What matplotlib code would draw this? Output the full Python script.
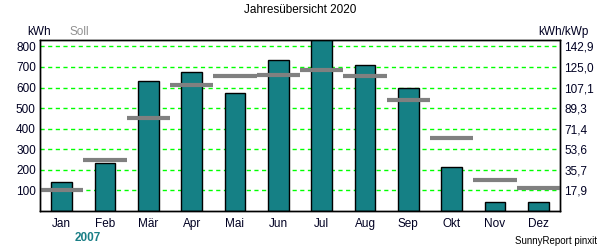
import matplotlib
matplotlib.use("Agg")
import matplotlib.pyplot as plt
import numpy as np

plt.rcParams['font.family'] = ['Liberation Sans', 'DejaVu Sans']

months = ["Jan", "Feb", "Mär", "Apr", "Mai", "Jun", "Jul", "Aug", "Sep", "Okt", "Nov", "Dez"]
ertrag = [139, 231, 631, 675, 572, 732, 845, 708, 596, 212, 42, 42]
soll = [100, 246, 451, 611, 654, 659, 683, 654, 538, 354, 149, 110]
left_ticks = [100, 200, 300, 400, 500, 600, 700, 800]
right_labels = ["17,9", "35,7", "53,6", "71,4", "89,3", "107,1", "125,0", "142,9"]

fig = plt.figure(figsize=(6, 2.5), dpi=100)
ax = fig.add_axes([40/600, 1-210.9/250, 520/600, (210.9-40)/250])

x = np.arange(len(months))
ax.set_axisbelow(False)
for t in left_ticks:
    ax.axhline(t, color='#00FF00', lw=1, ls=(0, (3, 2.5)), zorder=1)
ax.bar(x, ertrag, width=0.48, color='#158085', edgecolor='black', lw=1, zorder=2)
ax.hlines(soll, x-0.5, x+0.5, color='#808080', lw=3, zorder=3)

ax.set_xlim(-0.5, 11.5)
ax.set_ylim(0, 831)
ax.set_yticks(left_ticks)
ax.set_yticklabels([str(t) for t in left_ticks], fontsize=8.5, color='#000022')
ax.set_xticks(x)
ax.set_xticklabels(months, fontsize=8.5, color='#000022')
ax.tick_params(axis='both', length=0, pad=3)
ax.tick_params(axis='x', pad=5)

ax2 = ax.twinx()
ax2.set_ylim(ax.get_ylim())
ax2.set_yticks(left_ticks)
ax2.set_yticklabels(right_labels, fontsize=8.5, color='#000022')
ax2.tick_params(axis='y', length=0, pad=3)

for a in (ax, ax2):
    for s in a.spines.values():
        s.set_color('black')
        s.set_linewidth(1)

fig.text(300/600, 1-10/250, "Jahresübersicht 2020", ha='center', va='center', fontsize=8.5, color='black')
fig.text(27/600, 1-32/250, "kWh", ha='left', va='center', fontsize=8.5, color='#000022')
fig.text(70/600, 1-32/250, "Soll", ha='left', va='center', fontsize=8.5, color='#909090')
fig.text(589/600, 1-32/250, "kWh/kWp", ha='right', va='center', fontsize=8.5, color='#000022')
fig.text(88/600, 1-238/250, "2007", ha='center', va='center', fontsize=8.5, color='#1a7f86', fontweight='bold')
fig.text(597/600, 1-241/250, "SunnyReport pinxit", ha='right', va='center', fontsize=7, color='black')

fig.savefig("out.png", dpi=100)
